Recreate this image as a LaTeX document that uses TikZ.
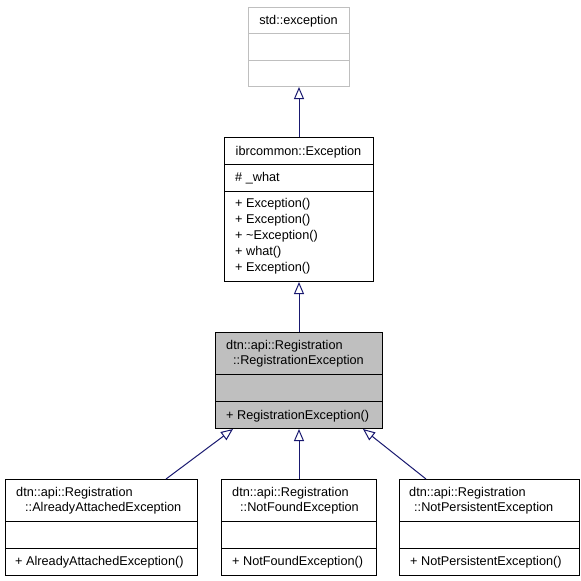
\documentclass[tikz,border=0pt]{standalone}
\usepackage{fontspec}
\setmainfont{Liberation Sans}
\usetikzlibrary{arrows.meta}
\definecolor{edgeblue}{HTML}{191970}
\definecolor{boxgray}{HTML}{BFBFBF}
\begin{document}
\begin{tikzpicture}[x=1pt,y=-1pt,
  box/.style={draw=black, line width=1pt, inner sep=0pt, anchor=north west},
  txt/.style={inner sep=0pt, anchor=west, font=\fontsize{12.7}{15}\selectfont, text height=12.4pt, text depth=2.6pt},
  ctxt/.style={txt, anchor=center},
  divider/.style={line width=1pt},
  inherit/.style={draw=edgeblue, line width=1pt, -{Triangle[open,length=12pt,width=10pt]}}]
\useasboundingbox[fill=white] (0,0) rectangle (581,581);

% std::exception
\node[box, draw=boxgray, minimum width=101pt, minimum height=79pt] (std) at (248,7) {};
\draw[divider, boxgray] (248,33) -- (349,33);
\draw[divider, boxgray] (248,60) -- (349,60);
\node[ctxt] (stdT) at (298.5,20) {std::exception};

% ibrcommon::Exception
\node[box, minimum width=149pt, minimum height=144pt] (ibr) at (224,137) {};
\draw[divider] (224,164) -- (373,164);
\draw[divider] (224,191) -- (373,191);
\node[ctxt] (ibrT) at (298.5,151) {ibrcommon::Exception};
\node[txt] (ibrA) at (235,177) {\# \_what};
\node[txt] (ibrM1) at (235,203) {+ Exception()};
\node[txt] (ibrM2) at (235,219) {+ Exception()};
\node[txt] (ibrM3) at (235,235) {+ \textasciitilde Exception()};
\node[txt] (ibrM4) at (235,251) {+ what()};
\node[txt] (ibrM5) at (235,267) {+ Exception()};

% RegistrationException
\node[box, fill=boxgray, minimum width=167pt, minimum height=96pt] (reg) at (215,332) {};
\draw[divider] (215,374.5) -- (382,374.5);
\draw[divider] (215,401.5) -- (382,401.5);
\node[txt] (regT1) at (226,345) {dtn::api::Registration};
\node[txt] (regT2) at (233,360) {::RegistrationException};
\node[txt] (regM) at (226,415) {+ RegistrationException()};

% AlreadyAttachedException
\node[box, minimum width=192pt, minimum height=96pt] (aae) at (5,479) {};
\draw[divider] (5,521) -- (197,521);
\draw[divider] (5,548) -- (197,548);
\node[txt] (aaeT1) at (16,492) {dtn::api::Registration};
\node[txt] (aaeT2) at (25,507) {::AlreadyAttachedException};
\node[txt] (aaeM) at (15,561) {+ AlreadyAttachedException()};

% NotFoundException
\node[box, minimum width=155pt, minimum height=96pt] (nfe) at (221,479) {};
\draw[divider] (221,521) -- (376,521);
\draw[divider] (221,548) -- (376,548);
\node[txt] (nfeT1) at (232,492) {dtn::api::Registration};
\node[txt] (nfeT2) at (240,507) {::NotFoundException};
\node[txt] (nfeM) at (232,561) {+ NotFoundException()};

% NotPersistentException
\node[box, minimum width=180pt, minimum height=96pt] (npe) at (399,479) {};
\draw[divider] (399,521) -- (579,521);
\draw[divider] (399,548) -- (579,548);
\node[txt] (npeT1) at (409,492) {dtn::api::Registration};
\node[txt] (npeT2) at (414,507) {::NotPersistentException};
\node[txt] (npeM) at (410,561) {+ NotPersistentException()};

% inheritance connectors
\draw[inherit] (ibr.north) -- (std.south);
\draw[inherit] (reg.north) -- (ibr.south);
\draw[inherit] ([xshift=161pt]aae.north west) -- ([xshift=18pt]reg.south west);
\draw[inherit] (nfe.north) -- (reg.south);
\draw[inherit] ([xshift=27pt]npe.north west) -- ([xshift=-20pt]reg.south east);
\end{tikzpicture}
\end{document}
